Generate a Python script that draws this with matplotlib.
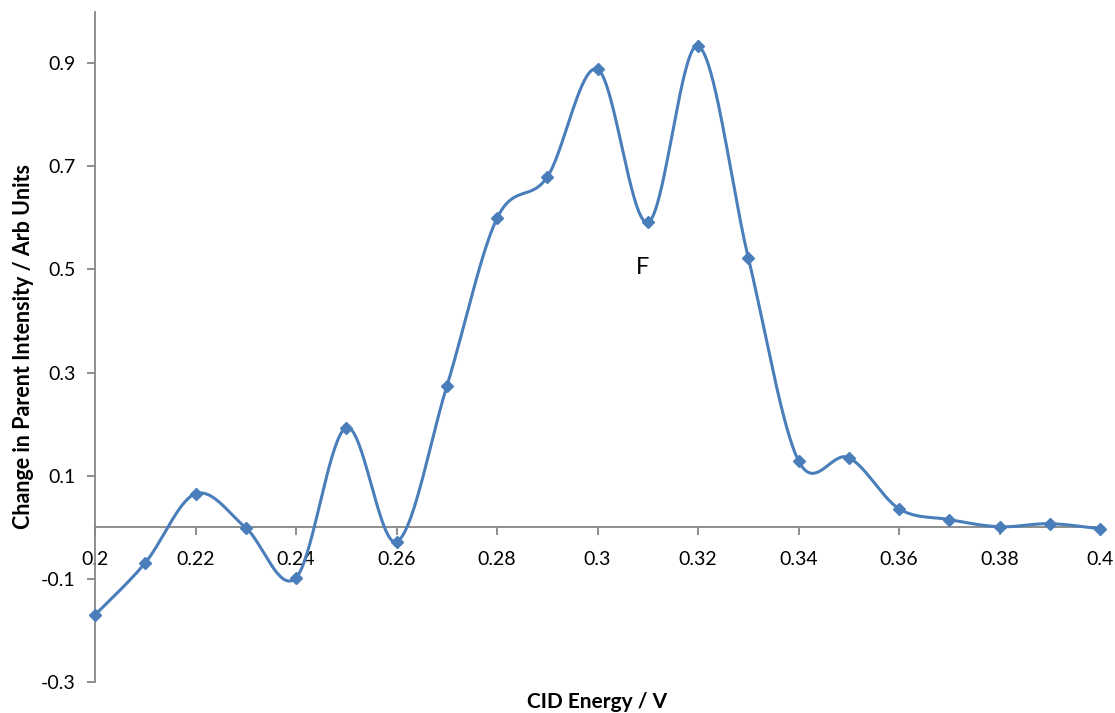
import numpy as np
import matplotlib
matplotlib.use("Agg")
import matplotlib.pyplot as plt

plt.rcParams['font.family'] = ['Lato', 'DejaVu Sans']

energy = [0.20, 0.21, 0.22, 0.23, 0.24, 0.25, 0.26, 0.27, 0.28, 0.29, 0.30,
          0.31, 0.32, 0.33, 0.34, 0.35, 0.36, 0.37, 0.38, 0.39, 0.40]
change = [-0.170, -0.069, 0.065, -0.001, -0.098, 0.193, -0.028, 0.273, 0.599, 0.679, 0.888,
          0.591, 0.933, 0.523, 0.129, 0.135, 0.036, 0.015, 0.001, 0.007, -0.003]
yticks = [-0.3, -0.1, 0.1, 0.3, 0.5, 0.7, 0.9]
xticks = [0.20, 0.22, 0.24, 0.26, 0.28, 0.30, 0.32, 0.34, 0.36, 0.38, 0.40]
xticklabels = ['0.2', '0.22', '0.24', '0.26', '0.28', '0.3', '0.32', '0.34', '0.36', '0.38', '0.4']

blue = '#4A7EBB'
grey = '#868686'


def smooth(x, y, n=40):
    # spreadsheet style bezier smoothing through every point
    x = np.asarray(x); y = np.asarray(y)
    px = np.concatenate([[x[0]], x, [x[-1]]])
    py = np.concatenate([[y[0]], y, [y[-1]]])
    t = np.linspace(0, 1, n)[:, None]
    xs, ys = [], []
    for i in range(1, len(px) - 2):
        p0 = np.array([px[i], py[i]])
        p3 = np.array([px[i + 1], py[i + 1]])
        c1 = p0 + (np.array([px[i + 1], py[i + 1]]) - np.array([px[i - 1], py[i - 1]])) / 6
        c2 = p3 - (np.array([px[i + 2], py[i + 2]]) - np.array([px[i], py[i]])) / 6
        pts = ((1 - t) ** 3) * p0 + 3 * ((1 - t) ** 2) * t * c1 + 3 * (1 - t) * t ** 2 * c2 + t ** 3 * p3
        xs.append(pts[:, 0]); ys.append(pts[:, 1])
    return np.concatenate(xs), np.concatenate(ys)


fig = plt.figure(figsize=(11.15, 7.13), dpi=100)
ax = fig.add_axes([95 / 1115, 31 / 713, 1005 / 1115, 670.5 / 713])

sx, sy = smooth(energy, change)
ax.plot(sx, sy, color=blue, lw=2.2, zorder=3, clip_on=False)
ax.plot(energy, change, 'D', color=blue, ms=6, zorder=4, clip_on=False)

ax.set_xlim(0.2, 0.4)
ax.set_ylim(-0.3, 1.0)
ax.spines['top'].set_visible(False)
ax.spines['right'].set_visible(False)
ax.spines['bottom'].set_position(('data', 0))
ax.spines['left'].set_bounds(-0.3, 1.0)
for s in ['left', 'bottom']:
    ax.spines[s].set_color(grey)
    ax.spines[s].set_linewidth(1.3)

ax.set_yticks(yticks)
ax.set_yticklabels(['-0.3', '-0.1', '0.1', '0.3', '0.5', '0.7', '0.9'])
ax.set_xticks(xticks)
ax.set_xticklabels(xticklabels)
ax.tick_params(axis='both', colors=grey, labelcolor='black', labelsize=14,
               length=6, width=1.3, direction='out')
ax.tick_params(axis='x', pad=11)
ax.tick_params(axis='y', pad=8)

ax.set_ylabel('Change in Parent Intensity / Arb Units', fontsize=15.5, fontweight='bold', labelpad=5)
fig.text(597 / 1115, 1 - 702 / 713, 'CID Energy / V', fontsize=15, fontweight='bold',
         ha='center', va='center')
ax.text(0.309, 0.504, 'F', fontsize=17, ha='center', va='center')

fig.savefig('out.png', dpi=100)
